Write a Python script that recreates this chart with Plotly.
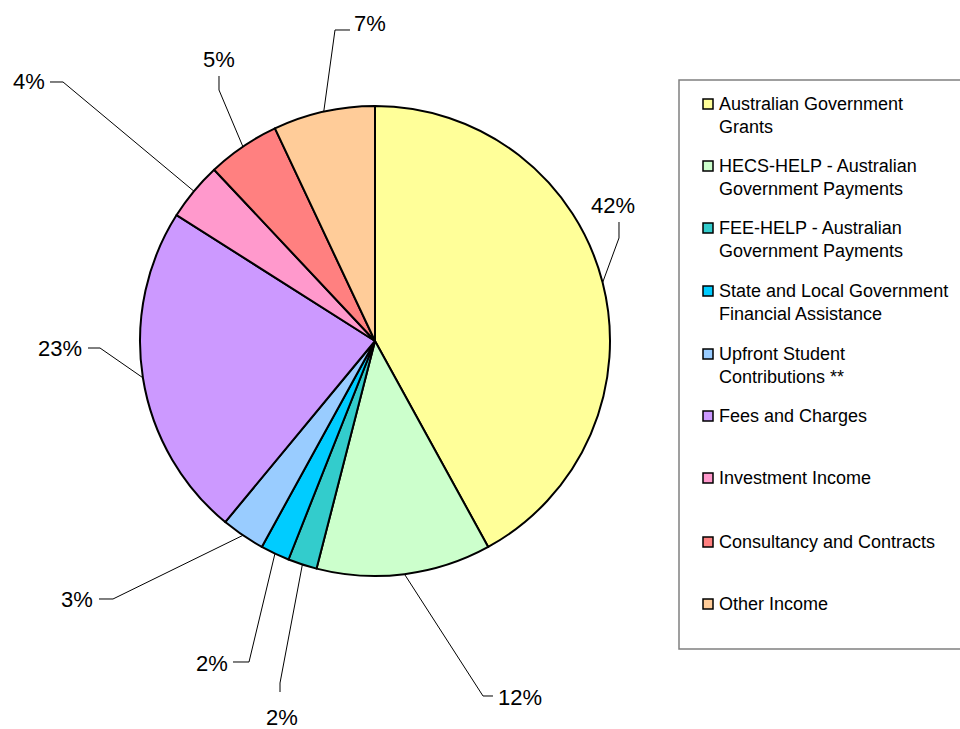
import math
import plotly.graph_objects as go

# Income categories and their share of total revenue (%)
categories = [
    "Australian Government Grants",
    "HECS-HELP - Australian Government Payments",
    "FEE-HELP - Australian Government Payments",
    "State and Local Government Financial Assistance",
    "Upfront Student Contributions **",
    "Fees and Charges",
    "Investment Income",
    "Consultancy and Contracts",
    "Other Income",
]
shares = [42, 12, 2, 2, 3, 23, 4, 5, 7]

# Legend text, broken over lines as shown in the key
legend_text = [
    "Australian Government<br>Grants",
    "HECS-HELP - Australian<br>Government Payments",
    "FEE-HELP - Australian<br>Government Payments",
    "State and Local Government<br>Financial Assistance",
    "Upfront Student<br>Contributions **",
    "Fees and Charges",
    "Investment Income",
    "Consultancy and Contracts",
    "Other Income",
]

colors = ["#FFFF99", "#CCFFCC", "#33CCCC", "#00CCFF", "#99CCFF",
          "#CC99FF", "#FF99CC", "#FF8080", "#FFCC99"]

W, H = 960, 729
CX, CY, R = 375, 341, 235  # pie centre and radius in pixels

# Leader-line elbow and label placement (pixels): elbow point, line end, label anchor
label_layout = [
    dict(elbow=(619, 238), end=(619, 222), text=(613, 206), xa="center"),
    dict(elbow=(483, 696), end=(493, 696), text=(496, 697), xa="left"),
    dict(elbow=(280, 683), end=(280, 692), text=(282, 717), xa="center"),
    dict(elbow=(249, 662), end=(233, 662), text=(230, 663), xa="right"),
    dict(elbow=(113, 599), end=(99, 599), text=(95, 599), xa="right"),
    dict(elbow=(100, 348), end=(88, 348), text=(84, 348), xa="right"),
    dict(elbow=(63, 82), end=(50, 82), text=(47, 81), xa="right"),
    dict(elbow=(219, 90), end=(219, 76), text=(219, 59), xa="center"),
    dict(elbow=(335, 30), end=(350, 30), text=(352, 24), xa="left"),
]


def px(x):
    return x / W


def py(y):
    return 1 - y / H


fig = go.Figure(go.Pie(
    labels=categories,
    values=shares,
    sort=False,
    direction="clockwise",
    rotation=0,
    marker=dict(colors=colors, line=dict(color="black", width=2)),
    textinfo="none",
    hoverinfo="label+percent",
    showlegend=False,
    domain=dict(x=[px(CX - R), px(CX + R)], y=[py(CY + R), py(CY - R)]),
))

shapes = []
annotations = []

# Leader lines start on the rim at each slice's mid-angle
total = sum(shares)
cum = 0
for v, lay in zip(shares, label_layout):
    mid = (cum + v / 2) / total * 2 * math.pi
    cum += v
    ax = CX + R * math.sin(mid)
    ay = CY - R * math.cos(mid)
    pts = [(ax, ay), lay["elbow"], lay["end"]]
    path = "M " + " L ".join(f"{px(x):.5f},{py(y):.5f}" for x, y in pts)
    shapes.append(dict(type="path", xref="paper", yref="paper", path=path,
                       line=dict(color="black", width=1)))
    tx, ty = lay["text"]
    annotations.append(dict(
        x=px(tx), y=py(ty), xref="paper", yref="paper",
        text=f"{v}%", showarrow=False, xanchor=lay["xa"], yanchor="middle",
        font=dict(family="Liberation Sans, Arial", size=22, color="black"),
    ))

# Key box with coloured swatches
shapes.append(dict(type="rect", xref="paper", yref="paper",
                   x0=px(679), x1=px(975), y0=py(649), y1=py(80),
                   line=dict(color="#808080", width=1.5), fillcolor="white",
                   layer="below"))
row_y = [104, 166, 228, 291, 354, 416, 478, 542, 604]
for i, (txt, c) in enumerate(zip(legend_text, colors)):
    y = row_y[i]
    shapes.append(dict(type="rect", xref="paper", yref="paper",
                       x0=px(703), x1=px(713), y0=py(y + 5), y1=py(y - 5),
                       line=dict(color="black", width=1.5), fillcolor=c))
    annotations.append(dict(
        x=px(717), y=py(y - 12), xref="paper", yref="paper",
        text=txt, showarrow=False, xanchor="left", yanchor="top", align="left",
        font=dict(family="Liberation Sans, Arial", size=18, color="black"),
    ))

fig.update_layout(
    width=W, height=H,
    margin=dict(l=0, r=0, t=0, b=0),
    paper_bgcolor="white",
    plot_bgcolor="white",
    shapes=shapes,
    annotations=annotations,
)

fig.write_html("out.html")
